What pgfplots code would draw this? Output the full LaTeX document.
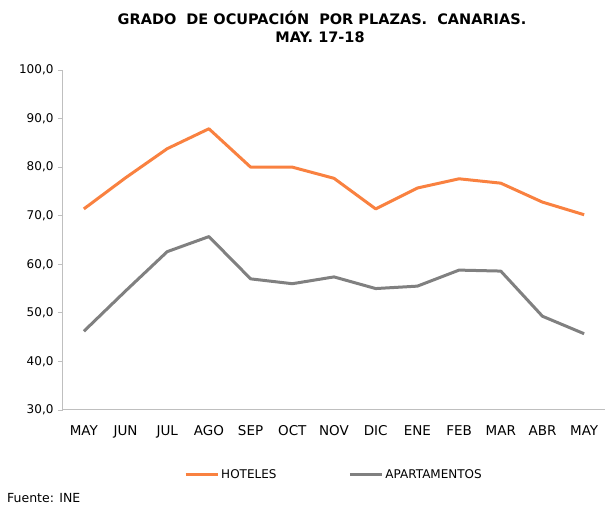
\documentclass[border=0pt]{standalone}
\usepackage{pgfplots}
\pgfplotsset{compat=1.18}
\usepackage{fontspec}
\setmainfont{DejaVu Sans}
\definecolor{hot}{HTML}{F98140}
\definecolor{apt}{HTML}{808080}
\definecolor{axgray}{HTML}{BFBFBF}
\begin{document}
\begin{tikzpicture}[x=1pt,y=1pt]
\path[use as bounding box] (0,0) rectangle (606,510);
\begin{axis}[
  at={(63pt,100pt)}, anchor=south west,
  scale only axis, width=542pt, height=340pt,
  xmin=-0.5, xmax=12.5, ymin=30, ymax=100,
  axis x line*=bottom, axis y line*=left,
  axis line style={axgray, line width=1pt, -},
  xtick={0,...,12},
  xticklabels={MAY,JUN,JUL,AGO,SEP,OCT,NOV,DIC,ENE,FEB,MAR,ABR,MAY},
  major x tick style={draw=none},
  extra x ticks={-0.5,0.5,...,12.5},
  extra x tick labels={},
  extra x tick style={tick style={draw=axgray, line width=0.8pt}, major tick length=5pt, tick align=outside},
  ytick={30,40,...,100},
  y tick style={draw=axgray, line width=0.8pt},
  major tick length=5pt, tick align=outside,
  yticklabel style={/pgf/number format/fixed, /pgf/number format/fixed zerofill, /pgf/number format/precision=1, /pgf/number format/use comma, /pgf/number format/assume math mode=true, font=\fontsize{12}{14}\selectfont, xshift=-1pt},
  xticklabel style={font=\fontsize{13.5}{16}\selectfont, yshift=-7pt},
  legend columns=2,
  legend style={draw=none, fill=none, at={(0.5,-0.191)}, anchor=center,
    font=\fontsize{12}{14}\selectfont,
    /tikz/every even column/.append style={column sep=70pt}},
  legend image code/.code={\draw[#1, line width=3pt] (0pt,0pt) -- (32pt,0pt);},
  clip=false,
]
\addplot[hot, line width=3pt, line join=round] coordinates {
(0,71.4) (1,77.8) (2,83.8) (3,87.9) (4,80.0) (5,80.0) (6,77.7) (7,71.4) (8,75.7) (9,77.6) (10,76.7) (11,72.8) (12,70.2)};
\addlegendentry{HOTELES}
\addplot[apt, line width=3pt, line join=round] coordinates {
(0,46.2) (1,54.5) (2,62.6) (3,65.7) (4,57.0) (5,56.0) (6,57.4) (7,55.0) (8,55.5) (9,58.8) (10,58.6) (11,49.3) (12,45.7)};
\addlegendentry{APARTAMENTOS}
\end{axis}
\node[font=\bfseries\fontsize{14.5}{17}\selectfont] at (322,492) {GRADO\ \ DE OCUPACIÓN\ \ POR PLAZAS.\ \ CANARIAS.};
\node[font=\bfseries\fontsize{14.5}{17}\selectfont] at (320,473) {MAY. 17-18};
\node[font=\fontsize{12.5}{14}\selectfont, anchor=west, inner sep=0pt] at (7,12) {Fuente: INE};
\end{tikzpicture}
\end{document}
